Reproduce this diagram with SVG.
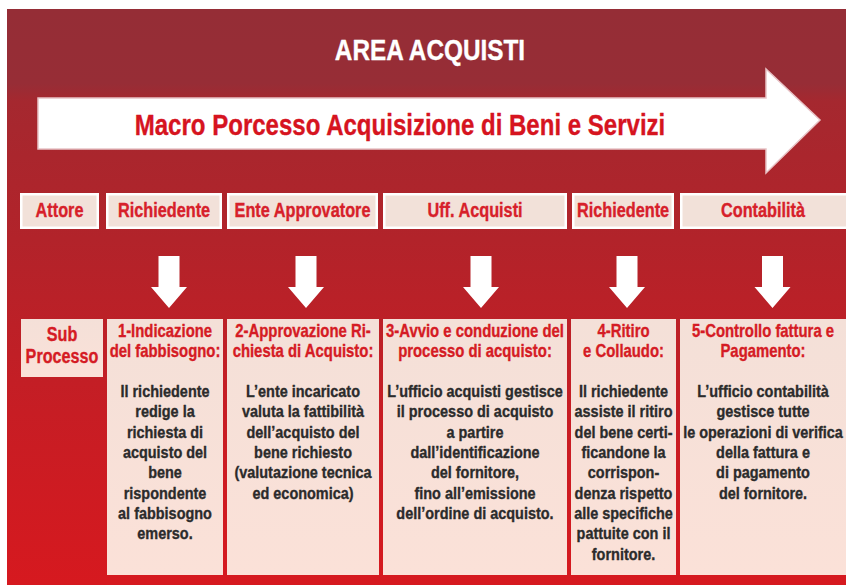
<svg xmlns="http://www.w3.org/2000/svg" width="846" height="585" viewBox="0 0 846 585">
<defs>
<linearGradient id="bg" gradientUnits="userSpaceOnUse" x1="0" y1="9" x2="0" y2="585">
<stop offset="0" stop-color="#952d36"/>
<stop offset="0.13" stop-color="#972d36"/>
<stop offset="0.16" stop-color="#a5282f"/>
<stop offset="0.4" stop-color="#b2232a"/>
<stop offset="0.7" stop-color="#c71d24"/>
<stop offset="1" stop-color="#d6191f"/>
</linearGradient>
<linearGradient id="boxfill" x1="0" y1="0" x2="0" y2="1">
<stop offset="0" stop-color="#f4e0d8"/>
<stop offset="1" stop-color="#fbe1d8"/>
</linearGradient>
<path id="down" d="M-10.5,256 h21 v31 h7.5 L0,308 L-18,287 h7.5 z" fill="#ffffff"/>
</defs>
<style>
text{font-family:"Liberation Sans",Arial,sans-serif;font-weight:bold;text-anchor:middle;stroke-width:0.35px;stroke-linejoin:round}
.title{font-size:29px;fill:#ffffff;stroke:#ffffff}
.macro{font-size:29.5px;fill:#d6141f;stroke:#d6141f}
.actor rect{fill:#f2e1d9;stroke:#ffffff;stroke-width:2.5}
.actor text{font-size:19.5px;fill:#d7202a;stroke:#d7202a}
.sub rect{fill:url(#boxfill)}
.head{font-size:17.5px;fill:#d51b24;stroke:#d51b24}
.body{font-size:17px;fill:#2b2b2b;stroke:#2b2b2b}
.subl{font-size:19.5px;fill:#d51b24;stroke:#d51b24}
</style>
<rect x="7" y="9" width="839" height="576" fill="url(#bg)"/>
<g id="title"><text class="title" transform="translate(430 59.5) scale(0.84 1)" x="0" y="0">AREA ACQUISTI</text></g>
<g id="macro-arrow">
<polygon points="38,98 766,98 766,69 820,120 766,173 766,149 38,149" fill="#ffffff" stroke="#e8c3c6" stroke-width="1.5"/>
<text class="macro" transform="translate(400 135) scale(0.815 1)" x="0" y="0">Macro Porcesso Acquisizione di Beni e Servizi</text>
</g>
<g id="actor-attore" class="actor"><rect x="21.25" y="194.25" width="76.5" height="33.5"/><text transform="translate(59.5 216.5) scale(0.835 1)">Attore</text></g>
<g id="actor-richiedente1" class="actor"><rect x="107.25" y="194.25" width="113.5" height="33.5"/><text transform="translate(164 216.5) scale(0.835 1)">Richiedente</text></g>
<g id="actor-ente" class="actor"><rect x="228.25" y="194.25" width="148.5" height="33.5"/><text transform="translate(302.5 216.5) scale(0.835 1)">Ente Approvatore</text></g>
<g id="actor-uff" class="actor"><rect x="384.25" y="194.25" width="181.5" height="33.5"/><text transform="translate(475 216.5) scale(0.835 1)">Uff. Acquisti</text></g>
<g id="actor-richiedente2" class="actor"><rect x="573.25" y="194.25" width="99.5" height="33.5"/><text transform="translate(623 216.5) scale(0.835 1)">Richiedente</text></g>
<g id="actor-contabilita" class="actor"><rect x="681.25" y="194.25" width="166" height="33.5"/><text transform="translate(763 216.5) scale(0.835 1)">Contabilità</text></g>
<g id="connectors">
<use href="#down" x="169"/>
<use href="#down" x="306"/>
<use href="#down" x="481"/>
<use href="#down" x="627"/>
<use href="#down" x="772.5"/>
</g>
<g id="sub-label" class="sub"><rect x="21" y="319" width="82" height="58"/>
<g transform="translate(62 0) scale(0.83 1)"><text class="subl" x="0" y="341.5">Sub</text><text class="subl" x="0" y="363">Processo</text></g></g>
<g id="sub-1" class="sub"><rect x="107" y="319" width="116" height="256"/>
<g transform="translate(165 0) scale(0.85 1)">
<text class="head" x="0" y="337">1-Indicazione</text><text class="head" x="0" y="357">del fabbisogno:</text>
<text class="body" x="0" y="397">Il richiedente</text><text class="body" x="0" y="417.3">redige la</text><text class="body" x="0" y="437.6">richiesta di</text><text class="body" x="0" y="458">acquisto del</text><text class="body" x="0" y="478.3">bene</text><text class="body" x="0" y="498.6">rispondente</text><text class="body" x="0" y="519">al fabbisogno</text><text class="body" x="0" y="539.3">emerso.</text>
</g></g>
<g id="sub-2" class="sub"><rect x="227" y="319" width="152" height="256"/>
<g transform="translate(303 0) scale(0.85 1)">
<text class="head" x="0" y="337">2-Approvazione Ri-</text><text class="head" x="0" y="357">chiesta di Acquisto:</text>
<text class="body" x="0" y="397">L’ente incaricato</text><text class="body" x="0" y="417.3">valuta la fattibilità</text><text class="body" x="0" y="437.6">dell’acquisto del</text><text class="body" x="0" y="458">bene richiesto</text><text class="body" x="0" y="478.3">(valutazione tecnica</text><text class="body" x="0" y="498.6">ed economica)</text>
</g></g>
<g id="sub-3" class="sub"><rect x="383" y="319" width="184" height="256"/>
<g transform="translate(475 0) scale(0.85 1)">
<text class="head" x="0" y="337">3-Avvio e conduzione del</text><text class="head" x="0" y="357">processo di acquisto:</text>
<text class="body" x="0" y="397">L’ufficio acquisti gestisce</text><text class="body" x="0" y="417.3">il processo di acquisto</text><text class="body" x="0" y="437.6">a partire</text><text class="body" x="0" y="458">dall’identificazione</text><text class="body" x="0" y="478.3">del fornitore,</text><text class="body" x="0" y="498.6">fino all’emissione</text><text class="body" x="0" y="519">dell’ordine di acquisto.</text>
</g></g>
<g id="sub-4" class="sub"><rect x="571" y="319" width="105" height="256"/>
<g transform="translate(623.5 0) scale(0.85 1)">
<text class="head" x="0" y="337">4-Ritiro</text><text class="head" x="0" y="357">e Collaudo:</text>
<text class="body" x="0" y="397">Il richiedente</text><text class="body" x="0" y="417.3">assiste il ritiro</text><text class="body" x="0" y="437.6">del bene certi-</text><text class="body" x="0" y="458">ficandone la</text><text class="body" x="0" y="478.3">corrispon-</text><text class="body" x="0" y="498.6">denza rispetto</text><text class="body" x="0" y="519">alle specifiche</text><text class="body" x="0" y="539.3">pattuite con il</text><text class="body" x="0" y="559.6">fornitore.</text>
</g></g>
<g id="sub-5" class="sub"><rect x="680" y="319" width="166" height="256"/>
<g transform="translate(763 0) scale(0.85 1)">
<text class="head" x="0" y="337">5-Controllo fattura e</text><text class="head" x="0" y="357">Pagamento:</text>
<text class="body" x="0" y="397">L’ufficio contabilità</text><text class="body" x="0" y="417.3">gestisce tutte</text><text class="body" x="0" y="437.6">le operazioni di verifica</text><text class="body" x="0" y="458">della fattura e</text><text class="body" x="0" y="478.3">di pagamento</text><text class="body" x="0" y="498.6">del fornitore.</text>
</g></g>
</svg>
